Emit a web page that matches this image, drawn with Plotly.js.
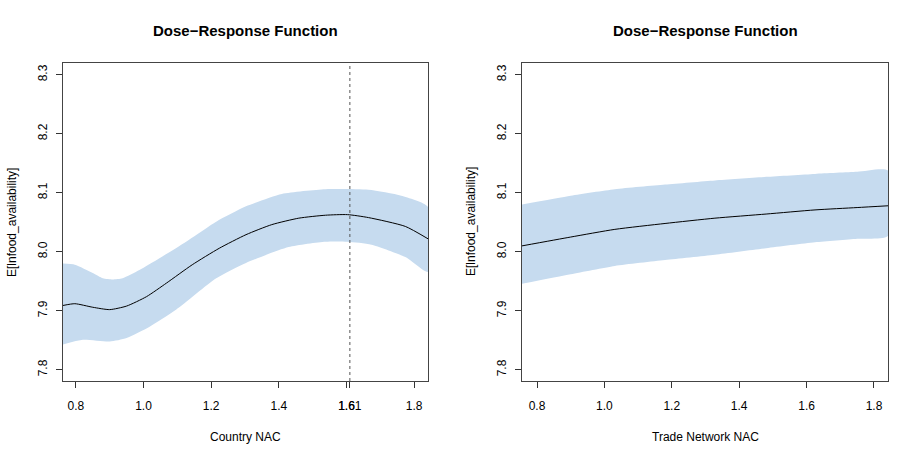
<!DOCTYPE html>
<html>
<head>
<meta charset="utf-8">
<script src="https://cdn.plot.ly/plotly-3.0.1.min.js"></script>
<style>
  html, body { margin:0; padding:0; background:#fff; }
  #plot { width:920px; height:460px; }
</style>
</head>
<body>
<div id="plot"></div>
<script>
// left panel: Country NAC
const leftMeanX  = [0.762,0.797,0.850,0.900,0.950,1.009,1.068,1.144,1.224,1.303,1.379,1.459,1.538,1.603,1.665,1.774,1.841];
const leftMeanY  = [7.909,7.912,7.906,7.902,7.908,7.924,7.947,7.978,8.006,8.029,8.046,8.057,8.062,8.063,8.058,8.043,8.022];
const leftUpX    = [0.762,0.797,0.850,0.880,0.909,0.938,0.988,1.047,1.126,1.215,1.303,1.409,1.538,1.665,1.762,1.841];
const leftUpY    = [7.980,7.978,7.964,7.955,7.953,7.955,7.969,7.989,8.017,8.051,8.077,8.098,8.106,8.105,8.095,8.076];
const leftLoX    = [0.762,0.821,0.900,0.950,1.018,1.097,1.215,1.303,1.429,1.538,1.603,1.674,1.774,1.841];
const leftLoY    = [7.843,7.851,7.848,7.854,7.873,7.902,7.955,7.981,8.008,8.017,8.017,8.012,7.991,7.966];
const leftVline  = 1.61;

// right panel: Trade Network NAC
const rightX     = [0.7555,0.900,1.031,1.180,1.328,1.480,1.625,1.750,1.842];
const rightMean  = [8.010,8.025,8.038,8.048,8.057,8.064,8.071,8.075,8.078];
const rightUp    = [8.080,8.095,8.106,8.114,8.121,8.127,8.132,8.1355,8.1375];
const rightLo    = [7.946,7.962,7.976,7.986,7.995,8.006,8.016,8.022,8.027];

const xTicks      = [0.8,1.0,1.2,1.4,1.6,1.8];
const xTickText   = ['0.8','1.0','1.2','1.4','1.6','1.8'];
const yTicks      = [7.8,7.9,8.0,8.1,8.2,8.3];
const yTickText   = ['7.8','7.9','8.0','8.1','8.2','8.3'];

const panelTitle  = 'Dose\u2212Response Function';
const yLabel      = 'E[lnfood_availability]';
const xLabels     = ['Country NAC','Trade Network NAC'];

const BAND = '#c6dbef';
const FONT = 'Liberation Sans, Arial, Helvetica, sans-serif';

function band(ux, uy, lx, ly, xa, ya){
  return {
    x: ux.concat(lx.slice().reverse()),
    y: uy.concat(ly.slice().reverse()),
    xaxis: xa, yaxis: ya,
    type:'scatter', mode:'lines', fill:'toself',
    fillcolor: BAND, line:{width:0, color:BAND, shape:'spline', smoothing:0.6},
    hoverinfo:'skip', showlegend:false
  };
}
function meanLine(x, y, xa, ya){
  return {
    x: x, y: y, xaxis: xa, yaxis: ya,
    type:'scatter', mode:'lines',
    line:{color:'#000', width:1, shape:'spline', smoothing:0.6},
    hoverinfo:'skip', showlegend:false
  };
}

const data = [
  band(leftUpX, leftUpY, leftLoX, leftLoY, 'x', 'y'),
  meanLine(leftMeanX, leftMeanY, 'x', 'y'),
  band(rightX, rightUp, rightX, rightLo, 'x2', 'y2'),
  meanLine(rightX, rightMean, 'x2', 'y2')
];

function xAxis(domain, range, vals, text, anchor){
  return {
    domain: domain, range: range, anchor: anchor,
    tickmode:'array', tickvals: vals, ticktext: text,
    ticks:'outside', ticklen:6, tickwidth:1, tickcolor:'#333',
    ticklabelstandoff: 8,
    showline:true, mirror:true, linecolor:'#444', linewidth:1,
    showgrid:false, zeroline:false,
    tickfont:{family:FONT, size:12, color:'#000'}
  };
}
function yAxis(domain, anchor){
  return {
    domain: domain, range:[7.781, 8.32], anchor: anchor,
    tickmode:'array', tickvals: yTicks, ticktext: yTickText,
    tickangle:-90,
    ticks:'outside', ticklen:6, tickwidth:1, tickcolor:'#333',
    ticklabelstandoff: 4,
    showline:true, mirror:true, linecolor:'#444', linewidth:1,
    showgrid:false, zeroline:false,
    tickfont:{family:FONT, size:12, color:'#000'}
  };
}

const leftDom  = [63/920, 428/920];
const rightDom = [522/920, 888/920];
const yDom     = [(460-381)/460, (460-63)/460];

// R adds an axis tick at the vertical line, overlapping "1.6"
const leftTickVals = xTicks.concat([leftVline]);
const leftTickText = xTickText.concat([String(leftVline)]);

const annotations = [];
[leftDom, rightDom].forEach((d, i)=>{
  const cx = (d[0]+d[1])/2;
  annotations.push({xref:'paper', yref:'paper', x:cx, y:1-31/460, text:'<b>'+panelTitle+'</b>',
    showarrow:false, font:{family:FONT, size:15, color:'#000'}, xanchor:'center', yanchor:'middle'});
  annotations.push({xref:'paper', yref:'paper', x:cx, y:1-437/460, text:xLabels[i],
    showarrow:false, font:{family:FONT, size:12, color:'#000'}, xanchor:'center', yanchor:'middle'});
  annotations.push({xref:'paper', yref:'paper', x:(d[0]*920-51)/920, y:(yDom[0]+yDom[1])/2, text:yLabel,
    textangle:-90, showarrow:false, font:{family:FONT, size:12, color:'#000'}, xanchor:'center', yanchor:'middle'});
});

const layout = {
  width:920, height:460,
  margin:{l:0, r:0, t:0, b:0},
  paper_bgcolor:'#fff', plot_bgcolor:'#fff',
  showlegend:false,
  xaxis:  xAxis(leftDom,  [0.762, 1.841], leftTickVals, leftTickText, 'y'),
  yaxis:  yAxis(yDom, 'x'),
  xaxis2: xAxis(rightDom, [0.7555, 1.8416], xTicks, xTickText, 'y2'),
  yaxis2: yAxis(yDom, 'x2'),
  shapes:[{
    type:'line', xref:'x', yref:'y domain', x0:leftVline, x1:leftVline, y0:0, y1:1,
    line:{color:'#555', width:1, dash:'3px,3px'}
  }],
  annotations: annotations
};

Plotly.newPlot('plot', data, layout, {staticPlot:true, displayModeBar:false});
</script>
</body>
</html>
